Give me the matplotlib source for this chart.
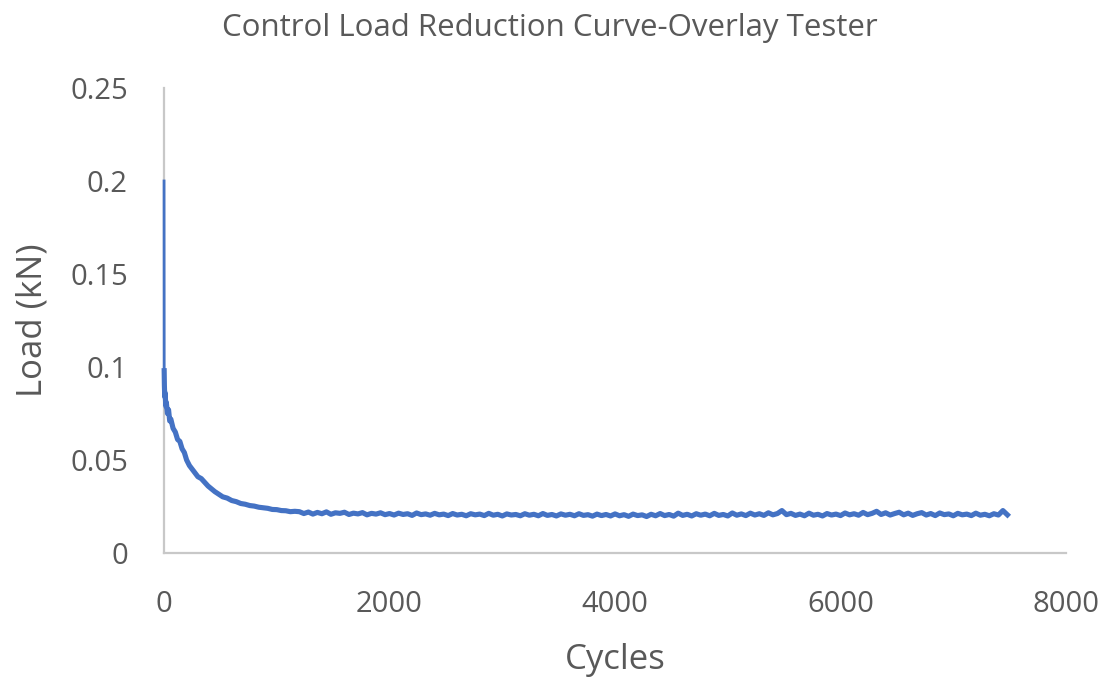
import numpy as np
import matplotlib
matplotlib.use("Agg")
import matplotlib.pyplot as plt

# Early decay (irregular sampling)
cycles_early = [0, 1, 3, 6, 10, 15, 20, 30, 40, 50, 60, 80, 100, 120, 140,
                160, 180, 200, 225, 250, 275, 300, 330, 360, 390, 420, 450,
                480, 520, 560, 600, 640, 680, 720, 760, 800, 840, 880, 920,
                960, 1000, 1040, 1080, 1120, 1160]
load_early = [0.200, 0.098, 0.090, 0.084, 0.086, 0.079, 0.081, 0.075, 0.077,
              0.071, 0.072, 0.067, 0.065, 0.061, 0.060, 0.056, 0.054, 0.050,
              0.047, 0.045, 0.043, 0.041, 0.040, 0.038, 0.036, 0.0345, 0.033,
              0.0318, 0.0302, 0.0295, 0.0282, 0.0276, 0.0266, 0.0262, 0.0255,
              0.0252, 0.0246, 0.0243, 0.0240, 0.0234, 0.0233, 0.0228, 0.0227,
              0.0222, 0.0224]

# Plateau, one reading every 40 cycles from 1200 to 7480
cycles_plateau = np.arange(1200, 7481, 40)
load_plateau = [
    0.0222, 0.0212, 0.0220, 0.0209, 0.0218, 0.0211, 0.0221, 0.0208, 0.0216, 0.0213,
    0.0219, 0.0207, 0.0214, 0.0210, 0.0217, 0.0205, 0.0213, 0.0209, 0.0216, 0.0206,
    0.0212, 0.0204, 0.0214, 0.0207, 0.0211, 0.0202, 0.0215, 0.0206, 0.0210, 0.0203,
    0.0213, 0.0205, 0.0209, 0.0201, 0.0212, 0.0204, 0.0208, 0.0200, 0.0211, 0.0205,
    0.0209, 0.0201, 0.0213, 0.0203, 0.0208, 0.0199, 0.0210, 0.0204, 0.0207, 0.0200,
    0.0211, 0.0203, 0.0208, 0.0200, 0.0212, 0.0202, 0.0207, 0.0199, 0.0210, 0.0203,
    0.0208, 0.0200, 0.0211, 0.0202, 0.0206, 0.0198, 0.0209, 0.0201, 0.0207, 0.0199,
    0.0210, 0.0200, 0.0206, 0.0197, 0.0209, 0.0201, 0.0205, 0.0196, 0.0208, 0.0200,
    0.0212, 0.0201, 0.0207, 0.0198, 0.0214, 0.0202, 0.0208, 0.0199, 0.0211, 0.0203,
    0.0209, 0.0200, 0.0213, 0.0202, 0.0207, 0.0199, 0.0215, 0.0203, 0.0210, 0.0201,
    0.0214, 0.0204, 0.0211, 0.0202, 0.0216, 0.0205, 0.0212, 0.0228, 0.0206, 0.0213,
    0.0202, 0.0209, 0.0200, 0.0214, 0.0203, 0.0208, 0.0199, 0.0212, 0.0204, 0.0209,
    0.0201, 0.0215, 0.0205, 0.0211, 0.0203, 0.0218, 0.0206, 0.0213, 0.0224, 0.0207,
    0.0216, 0.0204, 0.0212, 0.0219, 0.0205, 0.0214, 0.0202, 0.0211, 0.0217, 0.0204,
    0.0212, 0.0201, 0.0215, 0.0206, 0.0210, 0.0200, 0.0213, 0.0205, 0.0209, 0.0201,
    0.0214, 0.0203, 0.0208, 0.0200, 0.0211, 0.0204, 0.0228, 0.0205,
]

cycles = np.concatenate([cycles_early, cycles_plateau])
load = np.concatenate([load_early, load_plateau])

x_ticks = [0, 2000, 4000, 6000, 8000]
y_ticks = [0, 0.05, 0.1, 0.15, 0.2, 0.25]
y_labels = ['0', '0.05', '0.1', '0.15', '0.2', '0.25']

text_col = '#595959'
line_col = '#4472C4'
plt.rcParams['font.family'] = ['Open Sans', 'DejaVu Sans']

fig = plt.figure(figsize=(11.13, 6.81), dpi=100)
ax = fig.add_axes([0.1474, 0.188, 0.8104, 0.6828])

# the first drop is a thin stroke, the rest is a thick noisy band
ax.plot(cycles[:3], load[:3], color=line_col, linewidth=2.0,
        zorder=3, clip_on=False)
ax.plot(cycles[1:], load[1:], color=line_col, linewidth=3.7,
        solid_joinstyle='round', zorder=3, clip_on=False)

ax.set_xlim(0, 8000)
ax.set_ylim(0, 0.25)
ax.set_xticks(x_ticks)
ax.set_xticklabels([str(t) for t in x_ticks])
ax.set_yticks(y_ticks)
ax.set_yticklabels(y_labels)
ax.tick_params(length=0, labelsize=21, colors=text_col)
ax.tick_params(axis='x', pad=27)
ax.tick_params(axis='y', pad=26)

for s in ['top', 'right']:
    ax.spines[s].set_visible(False)
for s in ['left', 'bottom']:
    ax.spines[s].set_color('#C8C8C8')
    ax.spines[s].set_linewidth(1.6)

fig.text(0.494, 0.959, 'Control Load Reduction Curve-Overlay Tester',
         ha='center', va='center', fontsize=22.5, color=text_col)
fig.text(0.553, 0.031, 'Cycles', ha='center', va='center',
         fontsize=25, color=text_col)
fig.text(0.029, 0.53, 'Load (kN)', ha='center', va='center',
         rotation=90, fontsize=25, color=text_col)

fig.savefig('out.png', dpi=100)
